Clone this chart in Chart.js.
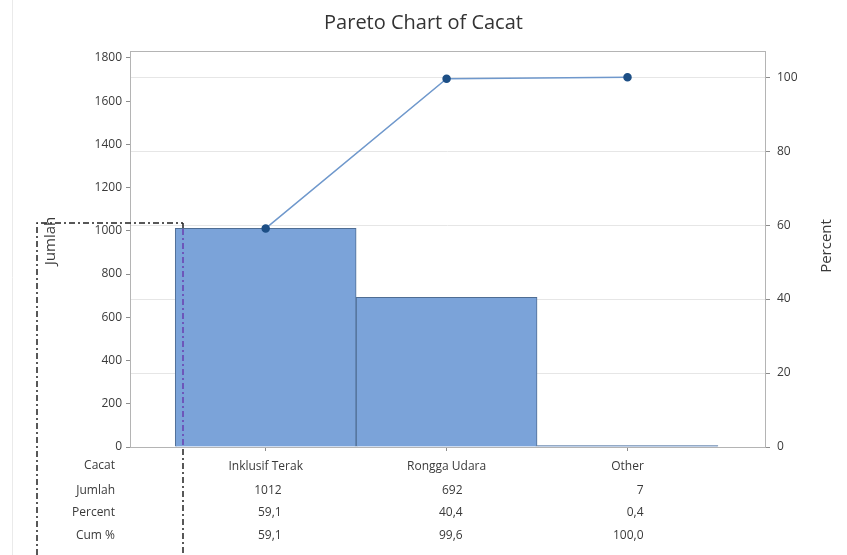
<!DOCTYPE html>
<html>
<head>
<meta charset="utf-8">
<script src="https://cdn.jsdelivr.net/npm/chart.js@4/dist/chart.umd.min.js"></script>
<style>
  html, body { margin: 0; padding: 0; background: #fff; }
  #wrap { width: 847px; height: 555px; }
</style>
</head>
<body>
<div id="wrap"><canvas id="pareto"></canvas></div>
<script>
// values
const categories = ['Inklusif Terak', 'Rongga Udara', 'Other'];
const counts = [1012, 692, 7];
const percents = [59.1, 40.4, 0.4];
const cumPercents = [59.1, 99.6, 100.0];
const leftTicks = [0, 200, 400, 600, 800, 1000, 1200, 1400, 1600, 1800];
const rightTicks = [0, 20, 40, 60, 80, 100];
const tableRows = ['Jumlah', 'Percent', 'Cum %'];

const total = 1711;
const leftMax = 1832;
const rightMax = leftMax / total * 100;

const textColor = '#3a3a3a';
const fontFamily = '"Open Sans", "Noto Sans", sans-serif';

function fmt(v) {
    return v.toFixed(1).replace('.', ',');
}

// frame around the plot area
const framePlugin = {
    id: 'frame',
    beforeDatasetsDraw(chart) {
        const a = chart.chartArea;
        const ctx = chart.ctx;
        ctx.save();
        ctx.strokeStyle = '#b4b4b4';
        ctx.lineWidth = 1;
        ctx.strokeRect(a.left + 0.5, a.top + 0.5, a.right - a.left, a.bottom - a.top);
        ctx.restore();
    }
};

// table under the x axis + axis titles
const tablePlugin = {
    id: 'table',
    afterDraw(chart) {
        const ctx = chart.ctx;
        const xs = chart.scales.x;
        ctx.save();
        ctx.font = '12px ' + fontFamily;
        ctx.fillStyle = textColor;
        ctx.textBaseline = 'middle';

        ctx.textAlign = 'right';
        ctx.fillText('Cacat', 115, 466);
        const rowY = [491, 513, 536];
        const rows = [counts.map(String), percents.map(fmt), cumPercents.map(fmt)];
        tableRows.forEach((name, r) => {
            ctx.textAlign = 'right';
            ctx.fillText(name, 115, rowY[r]);
            rows[r].forEach((txt, i) => {
                const cx = xs.getPixelForValue(i);
                ctx.fillText(txt, cx + 16, rowY[r]);
            });
        });

        // axis titles, reading bottom to top
        ctx.font = '15px ' + fontFamily;
        ctx.textAlign = 'center';
        ctx.save();
        ctx.translate(51, 241);
        ctx.rotate(-Math.PI / 2);
        ctx.fillText('Jumlah', 0, 0);
        ctx.restore();
        ctx.translate(827, 246);
        ctx.rotate(-Math.PI / 2);
        ctx.fillText('Percent', 0, 0);
        ctx.restore();

        // selection marks that sit on top of the picture
        ctx.save();
        ctx.strokeStyle = '#eaeaea';
        ctx.lineWidth = 1;
        ctx.beginPath();
        ctx.moveTo(12.5, 0);
        ctx.lineTo(12.5, 555);
        ctx.stroke();

        ctx.strokeStyle = '#222';
        ctx.lineWidth = 1.5;
        ctx.setLineDash([6, 3, 2, 3]);
        ctx.beginPath();
        ctx.moveTo(37, 555);
        ctx.lineTo(37, 223);
        ctx.lineTo(183, 223);
        ctx.stroke();
        ctx.beginPath();
        ctx.moveTo(183, 223);
        ctx.lineTo(183, 228);
        ctx.moveTo(183, 449);
        ctx.lineTo(183, 555);
        ctx.stroke();
        ctx.strokeStyle = '#6a3fb0';
        ctx.beginPath();
        ctx.moveTo(183, 229);
        ctx.lineTo(183, 447);
        ctx.stroke();
        ctx.restore();
    }
};

const ctx = document.getElementById('pareto');

new Chart(ctx, {
    type: 'bar',
    data: {
        datasets: [{
            type: 'line',
            label: 'Cum %',
            data: cumPercents.map((v, i) => ({ x: i, y: v })),
            yAxisID: 'y1',
            borderColor: '#6f98cc',
            borderWidth: 1.5,
            pointRadius: 3.5,
            pointBackgroundColor: '#1d4f86',
            pointBorderColor: '#1d4f86',
            order: 0
        }, {
            type: 'bar',
            label: 'Jumlah',
            data: counts.map((v, i) => ({ x: i, y: v })),
            yAxisID: 'y',
            backgroundColor: '#7ba3d9',
            borderColor: '#4f6d93',
            borderWidth: 1,
            barPercentage: 1,
            categoryPercentage: 1,
            order: 1
        }]
    },
    options: {
        responsive: true,
        maintainAspectRatio: false,
        animation: false,
        layout: { padding: 0 },
        plugins: {
            legend: { display: false },
            tooltip: { enabled: false },
            title: {
                display: true,
                text: 'Pareto Chart of Cacat',
                color: '#333',
                font: { family: fontFamily, size: 20, weight: 'normal' },
                padding: { top: 11, bottom: 16 }
            }
        },
        scales: {
            x: {
                type: 'linear',
                min: -0.75,
                max: 2.76,
                offset: false,
                afterBuildTicks: s => { s.ticks = categories.map((c, i) => ({ value: i })); },
                afterFit: s => { s.height = 108; },
                ticks: {
                    callback: v => categories[v],
                    color: textColor,
                    font: { family: fontFamily, size: 12 },
                    padding: 8,
                    maxRotation: 0,
                    autoSkip: false
                },
                grid: { drawOnChartArea: false, offset: false, tickLength: 4, tickColor: '#8c8c8c' },
                border: { color: '#a8a8a8' }
            },
            y: {
                position: 'left',
                min: 0,
                max: leftMax,
                afterBuildTicks: s => { s.ticks = leftTicks.map(v => ({ value: v })); },
                afterFit: s => { s.width = 130; },
                ticks: {
                    callback: v => String(v),
                    color: textColor,
                    font: { family: fontFamily, size: 12 },
                    padding: 4
                },
                grid: { drawOnChartArea: false, tickLength: 4, tickColor: '#8c8c8c' },
                border: { color: '#a8a8a8' }
            },
            y1: {
                position: 'right',
                min: 0,
                max: rightMax,
                afterBuildTicks: s => { s.ticks = rightTicks.map(v => ({ value: v })); },
                afterFit: s => { s.width = 82; },
                ticks: {
                    callback: v => String(v),
                    color: textColor,
                    font: { family: fontFamily, size: 12 },
                    padding: 7
                },
                grid: { color: '#e6e6e6', tickLength: 5, tickColor: '#8c8c8c' },
                border: { color: '#a8a8a8' }
            }
        }
    },
    plugins: [framePlugin, tablePlugin]
});
</script>
</body>
</html>
